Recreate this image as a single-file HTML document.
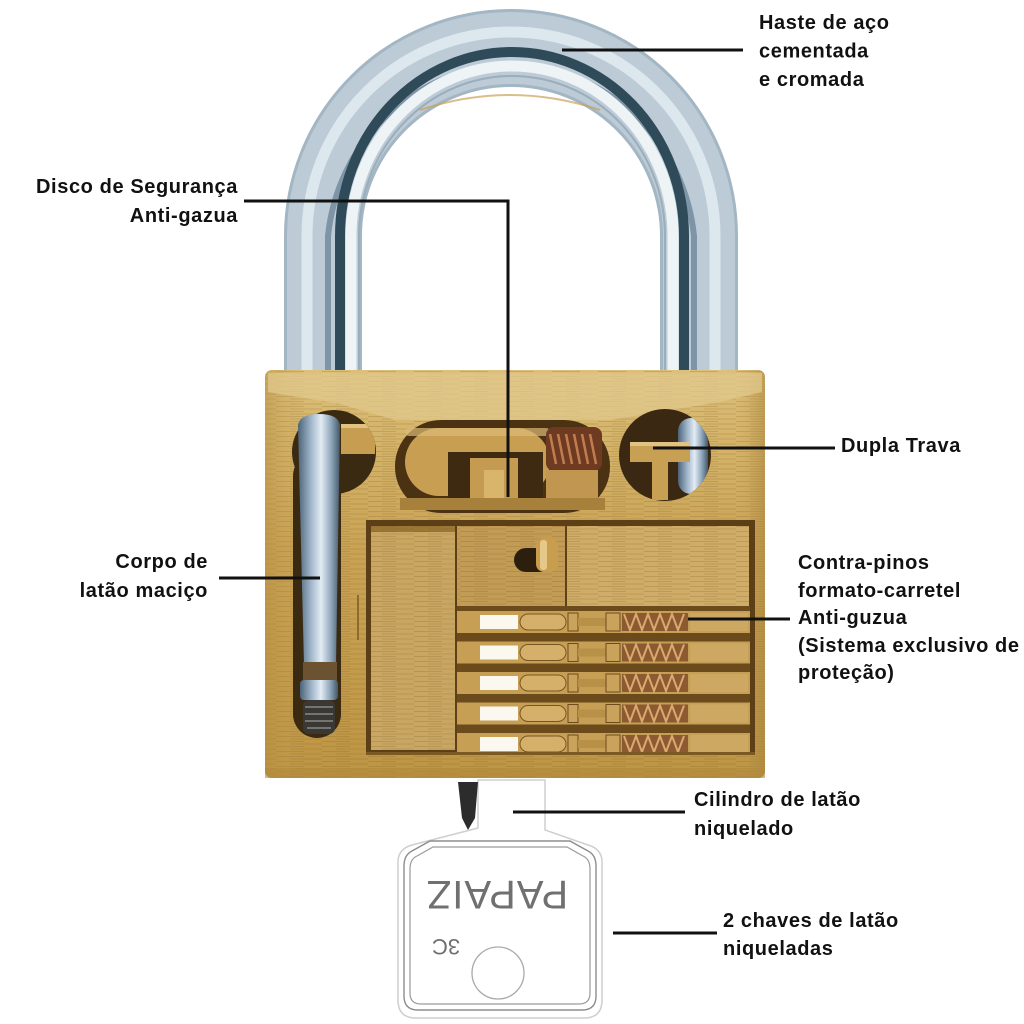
<!DOCTYPE html>
<html><head><meta charset="utf-8"><style>
html,body{margin:0;padding:0;background:#fff;}
svg{display:block;}
.t{font-family:"Liberation Sans",sans-serif;font-weight:bold;font-size:20px;letter-spacing:0.6px;fill:#111;}
</style></head><body>
<svg width="1024" height="1024" viewBox="0 0 1024 1024" xmlns="http://www.w3.org/2000/svg">
<defs>
 <linearGradient id="brass" x1="0" y1="0" x2="0" y2="1">
  <stop offset="0" stop-color="#dcbf78"/>
  <stop offset="0.45" stop-color="#c9a254"/>
  <stop offset="1" stop-color="#bd9544"/>
 </linearGradient>
 <linearGradient id="brassH" x1="0" y1="0" x2="1" y2="0">
  <stop offset="0" stop-color="#b48c40" stop-opacity="0.5"/>
  <stop offset="0.08" stop-color="#cba559" stop-opacity="0"/>
  <stop offset="0.94" stop-color="#cba559" stop-opacity="0"/>
  <stop offset="1" stop-color="#a8823a" stop-opacity="0.5"/>
 </linearGradient>
 <pattern id="grain" width="46" height="5" patternUnits="userSpaceOnUse">
  <path d="M0 1.5 H28 M14 4 H46" stroke="#7a5a20" stroke-width="0.7" opacity="0.3"/>
 </pattern>
 <linearGradient id="rod" x1="0" y1="0" x2="1" y2="0">
  <stop offset="0" stop-color="#4d6378"/>
  <stop offset="0.3" stop-color="#9fb4c8"/>
  <stop offset="0.55" stop-color="#e2ecf4"/>
  <stop offset="0.8" stop-color="#8ca3b8"/>
  <stop offset="1" stop-color="#435868"/>
 </linearGradient>
 <clipPath id="rc"><circle cx="665" cy="455" r="46"/></clipPath>
 <clipPath id="lc"><circle cx="334" cy="452" r="42"/></clipPath>
</defs>

<!-- Shackle -->
<g fill="none" stroke-linecap="butt">
 <path d="M323 390 V236 A188 188 0 0 1 699 236 V390" stroke="#a3b6c3" stroke-width="78"/>
 <path d="M323 390 V236 A188 188 0 0 1 699 236 V390" stroke="#bccbd6" stroke-width="72"/>
 <path d="M307 390 V236 A204 204 0 0 1 715 236 V390" stroke="#dde7ee" stroke-width="11"/>
 <path d="M328 390 V236 A184 190 0 0 1 694 236 V390" stroke="#7d95a6" stroke-width="6"/>
 <path d="M340 390 V236 A172 184 0 0 1 684 236 V390" stroke="#2f4a59" stroke-width="10"/>
 <path d="M351 390 V236 A161 170 0 0 1 673 236 V390" stroke="#eef3f6" stroke-width="11"/>
 <path d="M359 390 V236 A153 160 0 0 1 665 236 V390" stroke="#9aaebb" stroke-width="2"/>
 <path d="M420 110 Q510 80 600 110" stroke="#c9a25a" stroke-width="2" opacity="0.7"/>
</g>

<!-- Body -->
<rect x="265" y="370" width="500" height="408" rx="7" fill="url(#brass)"/>
<rect x="265" y="370" width="500" height="408" rx="7" fill="url(#grain)"/>
<rect x="265" y="370" width="500" height="408" rx="7" fill="url(#brassH)"/>
<path d="M268 373 H762 V392 L720 402 L610 420 L395 420 L340 404 L268 392 Z" fill="#e0c88c" opacity="0.75"/>
<rect x="265" y="768" width="500" height="10" fill="#b08a3e" opacity="0.6"/>

<!-- Left cavity -->
<circle cx="334" cy="452" r="42" fill="#3b2a12"/>
<rect x="293" y="452" width="48" height="286" rx="24" fill="#3b2a12"/>
<g clip-path="url(#lc)">
 <rect x="341" y="424" width="34" height="30" fill="#c69d51"/>
 <rect x="341" y="424" width="34" height="4" fill="#e2c27e"/>
</g>
<path d="M298 425 Q300 414 319 414 Q338 414 340 425 L336 665 L304 665 Z" fill="url(#rod)"/>
<rect x="303" y="662" width="34" height="20" fill="#6b5230"/>
<rect x="300" y="680" width="38" height="20" rx="4" fill="url(#rod)"/>
<rect x="303" y="700" width="32" height="34" rx="6" fill="#3a3834"/>
<g stroke="#8a8882" stroke-width="1.5">
 <path d="M305 707 H333 M305 714 H333 M305 721 H333 M307 728 H331"/>
</g>
<path d="M358 595 V640" stroke="#8d6b2c" stroke-width="2"/>

<!-- Middle stadium cavity -->
<rect x="395" y="420" width="215" height="93" rx="46" fill="#4a3213"/>
<rect x="405" y="428" width="145" height="68" rx="34" fill="#c89f52"/>
<rect x="405" y="428" width="145" height="8" rx="4" fill="#dcbb78" opacity="0.7"/>
<rect x="448" y="452" width="95" height="48" fill="#3e2a10"/>
<rect x="470" y="458" width="48" height="42" fill="#c49b50"/>
<rect x="484" y="470" width="20" height="30" fill="#d9b56c"/>
<rect x="546" y="427" width="56" height="44" rx="8" fill="#6e3b22"/>
<g stroke="#c07d50" stroke-width="2.5">
 <path d="M550 434 L556 464 M558 434 L564 464 M566 434 L572 464 M574 434 L580 464 M582 434 L588 464 M590 434 L596 464"/>
</g>
<rect x="546" y="470" width="52" height="30" fill="#c09650"/>
<rect x="400" y="498" width="205" height="12" fill="#a7813c"/>

<!-- Right circle cavity -->
<circle cx="665" cy="455" r="46" fill="#3a2812"/>
<g clip-path="url(#rc)">
 <rect x="678" y="418" width="30" height="76" rx="13" fill="url(#rod)"/>
 <path d="M630 442 H690 V462 H668 V500 H652 V462 H630 Z" fill="#c8a054"/>
 <rect x="630" y="442" width="60" height="4" fill="#e0c283"/>
</g>

<!-- Lower cavity -->
<rect x="366" y="520" width="389" height="234" fill="#5c3f17"/>
<rect x="371" y="526" width="84" height="224" fill="#c9a662"/>
<rect x="371" y="526" width="84" height="6" fill="#9a7735"/>
<rect x="457" y="526" width="108" height="80" fill="#c29b55"/>
<rect x="567" y="526" width="182" height="80" fill="#cfad68"/>
<rect x="371" y="526" width="378" height="224" fill="url(#grain)"/>
<rect x="514" y="548" width="40" height="24" rx="12" fill="#2d1f0e"/>
<rect x="536" y="538" width="22" height="34" rx="8" fill="#c99d4e"/>
<rect x="540" y="540" width="7" height="30" rx="3" fill="#e6c98a"/>
<rect x="457" y="606" width="293" height="146" fill="#6b4a1c"/>
<g>
 <g id="row">
  <rect x="457" y="611" width="293" height="22" fill="#c69f55"/>
  <rect x="480" y="615" width="38" height="14" fill="#fbf8f0"/>
  <rect x="520" y="614" width="46" height="16" rx="8" fill="#d4b06a" stroke="#7a5522" stroke-width="1"/>
  <rect x="568" y="613" width="10" height="18" fill="#c9a25c" stroke="#6e4b1c" stroke-width="1"/>
  <rect x="578" y="618" width="28" height="8" fill="#b89048"/>
  <rect x="606" y="613" width="14" height="18" fill="#c9a25c" stroke="#6e4b1c" stroke-width="1"/>
  <rect x="622" y="613" width="66" height="18" fill="#8b5a30"/>
  <path d="M624 614 L630 630 L636 614 L642 630 L648 614 L654 630 L660 614 L666 630 L672 614 L678 630 L684 614" fill="none" stroke="#dba870" stroke-width="2"/>
  <rect x="690" y="613" width="58" height="18" fill="#cda862"/>
 </g>
 <use href="#row" y="30.5"/>
 <use href="#row" y="61"/>
 <use href="#row" y="91.5"/>
 <use href="#row" y="122"/>
</g>
<rect x="366" y="752" width="389" height="3" fill="#7a5a22"/>

<!-- Key -->
<path d="M478 780 V828 L412 845 Q398 849 398 862 V1000 Q398 1018 416 1018 H584 Q602 1018 602 1000 V862 Q602 849 588 845 L545 830 V780 Z" fill="#fff" stroke="#cfcfcf" stroke-width="1.5"/>
<path d="M430 841 H570 L588 851 Q596 855 596 866 V996 Q596 1010 582 1010 H418 Q404 1010 404 996 V866 Q404 855 412 851 Z" fill="none" stroke="#8d8d8d" stroke-width="1.4"/>
<path d="M433 847 H567 L583 856 Q590 859 590 869 V993 Q590 1004 579 1004 H421 Q410 1004 410 993 V869 Q410 859 417 856 Z" fill="none" stroke="#9a9a9a" stroke-width="1.2"/>
<path d="M458 782 L478 782 L475 818 L468 830 L462 818 Z" fill="#2c2c2c"/>
<text x="497" y="895" text-anchor="middle" transform="rotate(180 497 895)" dy="14" font-family="'Liberation Sans',sans-serif" font-size="40" fill="#707070" letter-spacing="1">PAPAIZ</text>
<text x="446" y="947" text-anchor="middle" transform="rotate(180 446 947)" dy="8" font-family="'Liberation Sans',sans-serif" font-size="22" fill="#707070">3C</text>
<circle cx="498" cy="973" r="26" fill="#fff" stroke="#aaaaaa" stroke-width="1.3"/>

<!-- Connector lines -->
<g stroke="#111" stroke-width="3" fill="none">
 <path d="M562 50 H743"/>
 <path d="M244 201 H508 V497"/>
 <path d="M653 448 H835"/>
 <path d="M219 578 H320"/>
 <path d="M688 619 H790"/>
 <path d="M513 812 H685"/>
 <path d="M613 933 H717"/>
</g>

<!-- Labels -->
<text class="t" x="759" y="29">Haste de aço</text>
<text class="t" x="759" y="57.5">cementada</text>
<text class="t" x="759" y="86">e cromada</text>

<text class="t" x="238" y="193" text-anchor="end">Disco de Segurança</text>
<text class="t" x="238" y="222" text-anchor="end">Anti-gazua</text>

<text class="t" x="841" y="452">Dupla Trava</text>

<text class="t" x="208" y="568" text-anchor="end">Corpo de</text>
<text class="t" x="208" y="597" text-anchor="end">latão maciço</text>

<text class="t" x="798" y="569">Contra-pinos</text>
<text class="t" x="798" y="597">formato-carretel</text>
<text class="t" x="798" y="624">Anti-guzua</text>
<text class="t" x="798" y="652">(Sistema exclusivo de</text>
<text class="t" x="798" y="679">proteção)</text>

<text class="t" x="694" y="806">Cilindro de latão</text>
<text class="t" x="694" y="835">niquelado</text>

<text class="t" x="723" y="927">2 chaves de latão</text>
<text class="t" x="723" y="955">niqueladas</text>
</svg>
</body></html>
